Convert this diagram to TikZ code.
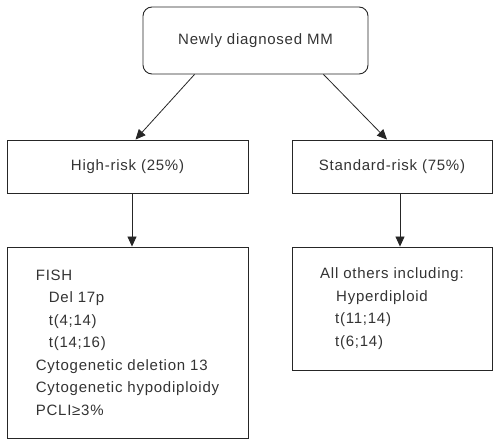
\documentclass[tikz,border=0pt]{standalone}
\usepackage{fontspec}
\setmainfont[LetterSpace=5]{Liberation Sans}
\usetikzlibrary{arrows.meta}
\begin{document}
\begin{tikzpicture}[x=1pt,y=-1pt,
  every node/.style={font=\fontsize{15}{22.5}\selectfont, text=black!80},
  box/.style={draw=black!85, line width=0.9pt, align=left, inner sep=0pt},
  arr/.style={draw=black!85, line width=0.8pt, -{Triangle[length=10pt,width=9pt]}}]
  \useasboundingbox (0,0) rectangle (500,443);
  \node[box, rounded corners=9pt, minimum width=225pt, minimum height=67pt] (mm) at (255.5,40.5) {Newly diagnosed MM};
  \node[box, minimum width=241pt, minimum height=53pt] (high) at (127.5,166.5) {High-risk (25\%)};
  \node[box, minimum width=200pt, minimum height=53pt] (std) at (392,166.5) {Standard-risk (75\%)};
  \node[box, minimum width=241pt, minimum height=191pt] (highlist) at (127.5,342.5) {FISH\\
    \hspace*{13pt}Del 17p\\
    \hspace*{13pt}t(4;14)\\
    \hspace*{13pt}t(14;16)\\
    Cytogenetic deletion 13\\
    Cytogenetic hypodiploidy\\
    PCLI≥3\%};
  \node[box, minimum width=200pt, minimum height=123pt] (stdlist) at (392,308.5) {All others including:\\
    \hspace*{16pt}Hyperdiploid\\
    \hspace*{15pt}t(11;14)\\
    \hspace*{15pt}t(6;14)};
  \draw[arr] ([xshift=-61pt]mm.south) -- ([xshift=8pt]high.north);
  \draw[arr] ([xshift=68pt]mm.south) -- ([xshift=-5pt]std.north);
  \draw[arr] ([xshift=4.5pt]high.south) -- ([xshift=4.5pt]highlist.north);
  \draw[arr] ([xshift=8pt]std.south) -- ([xshift=8pt]stdlist.north);
\end{tikzpicture}
\end{document}
